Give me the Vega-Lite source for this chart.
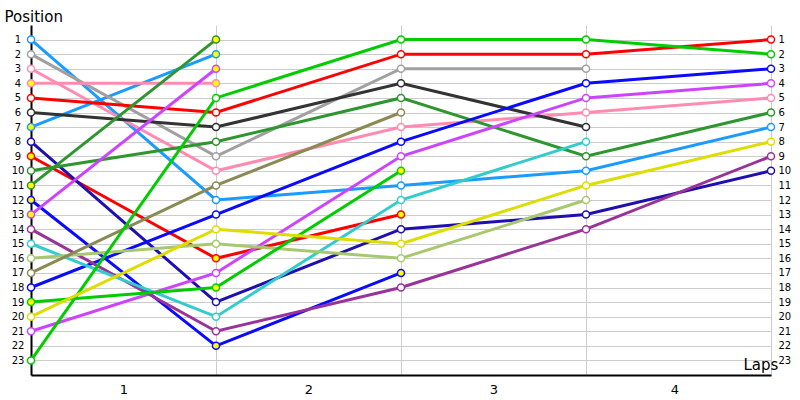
{
  "$schema": "https://vega.github.io/schema/vega-lite/v6.json",
  "autosize": {"type": "none"},
  "width": 740,
  "height": 350,
  "padding": {"left": 31, "top": 25, "right": 29, "bottom": 25},
  "background": "white",
  "config": {"view": {"stroke": null}, "font": "DejaVu Sans"},
  "data": {"values": [
    {"driver":"S1","team":"Sky","car":"1","lap":0,"pos":1},{"driver":"S1","team":"Sky","car":"1","lap":1,"pos":12},{"driver":"S1","team":"Sky","car":"1","lap":2,"pos":11},{"driver":"S1","team":"Sky","car":"1","lap":3,"pos":10},{"driver":"S1","team":"Sky","car":"1","lap":4,"pos":7},
    {"driver":"S7","team":"Sky","car":"2","lap":0,"pos":7},{"driver":"S7","team":"Sky","car":"2","lap":1,"pos":2},
    {"driver":"S2","team":"Silver","car":"1","lap":0,"pos":2},{"driver":"S2","team":"Silver","car":"1","lap":1,"pos":9},{"driver":"S2","team":"Silver","car":"1","lap":2,"pos":3},{"driver":"S2","team":"Silver","car":"1","lap":3,"pos":3},
    {"driver":"S3","team":"Rose","car":"1","lap":0,"pos":3},{"driver":"S3","team":"Rose","car":"1","lap":1,"pos":10},{"driver":"S3","team":"Rose","car":"1","lap":2,"pos":7},{"driver":"S3","team":"Rose","car":"1","lap":3,"pos":6},{"driver":"S3","team":"Rose","car":"1","lap":4,"pos":5},
    {"driver":"S4","team":"Rose","car":"2","lap":0,"pos":4},{"driver":"S4","team":"Rose","car":"2","lap":1,"pos":4},
    {"driver":"S5","team":"Scarlet","car":"1","lap":0,"pos":5},{"driver":"S5","team":"Scarlet","car":"1","lap":1,"pos":6},{"driver":"S5","team":"Scarlet","car":"1","lap":2,"pos":2},{"driver":"S5","team":"Scarlet","car":"1","lap":3,"pos":2},{"driver":"S5","team":"Scarlet","car":"1","lap":4,"pos":1},
    {"driver":"S9","team":"Scarlet","car":"2","lap":0,"pos":9},{"driver":"S9","team":"Scarlet","car":"2","lap":1,"pos":16},{"driver":"S9","team":"Scarlet","car":"2","lap":2,"pos":13},
    {"driver":"S6","team":"Onyx","car":"1","lap":0,"pos":6},{"driver":"S6","team":"Onyx","car":"1","lap":1,"pos":7},{"driver":"S6","team":"Onyx","car":"1","lap":2,"pos":4},{"driver":"S6","team":"Onyx","car":"1","lap":3,"pos":7},
    {"driver":"S8","team":"Navy","car":"1","lap":0,"pos":8},{"driver":"S8","team":"Navy","car":"1","lap":1,"pos":19},{"driver":"S8","team":"Navy","car":"1","lap":2,"pos":14},{"driver":"S8","team":"Navy","car":"1","lap":3,"pos":13},{"driver":"S8","team":"Navy","car":"1","lap":4,"pos":10},
    {"driver":"S10","team":"Forest","car":"1","lap":0,"pos":10},{"driver":"S10","team":"Forest","car":"1","lap":1,"pos":8},{"driver":"S10","team":"Forest","car":"1","lap":2,"pos":5},{"driver":"S10","team":"Forest","car":"1","lap":3,"pos":9},{"driver":"S10","team":"Forest","car":"1","lap":4,"pos":6},
    {"driver":"S11","team":"Forest","car":"2","lap":0,"pos":11},{"driver":"S11","team":"Forest","car":"2","lap":1,"pos":1},
    {"driver":"S18","team":"Azure","car":"1","lap":0,"pos":18},{"driver":"S18","team":"Azure","car":"1","lap":1,"pos":13},{"driver":"S18","team":"Azure","car":"1","lap":2,"pos":8},{"driver":"S18","team":"Azure","car":"1","lap":3,"pos":4},{"driver":"S18","team":"Azure","car":"1","lap":4,"pos":3},
    {"driver":"S12","team":"Azure","car":"2","lap":0,"pos":12},{"driver":"S12","team":"Azure","car":"2","lap":1,"pos":22},{"driver":"S12","team":"Azure","car":"2","lap":2,"pos":17},
    {"driver":"S21","team":"Violet","car":"1","lap":0,"pos":21},{"driver":"S21","team":"Violet","car":"1","lap":1,"pos":17},{"driver":"S21","team":"Violet","car":"1","lap":2,"pos":9},{"driver":"S21","team":"Violet","car":"1","lap":3,"pos":5},{"driver":"S21","team":"Violet","car":"1","lap":4,"pos":4},
    {"driver":"S13","team":"Violet","car":"2","lap":0,"pos":13},{"driver":"S13","team":"Violet","car":"2","lap":1,"pos":3},
    {"driver":"S14","team":"Plum","car":"1","lap":0,"pos":14},{"driver":"S14","team":"Plum","car":"1","lap":1,"pos":21},{"driver":"S14","team":"Plum","car":"1","lap":2,"pos":18},{"driver":"S14","team":"Plum","car":"1","lap":3,"pos":14},{"driver":"S14","team":"Plum","car":"1","lap":4,"pos":9},
    {"driver":"S15","team":"Teal","car":"1","lap":0,"pos":15},{"driver":"S15","team":"Teal","car":"1","lap":1,"pos":20},{"driver":"S15","team":"Teal","car":"1","lap":2,"pos":12},{"driver":"S15","team":"Teal","car":"1","lap":3,"pos":8},
    {"driver":"S16","team":"Sage","car":"1","lap":0,"pos":16},{"driver":"S16","team":"Sage","car":"1","lap":1,"pos":15},{"driver":"S16","team":"Sage","car":"1","lap":2,"pos":16},{"driver":"S16","team":"Sage","car":"1","lap":3,"pos":12},
    {"driver":"S17","team":"Olive","car":"1","lap":0,"pos":17},{"driver":"S17","team":"Olive","car":"1","lap":1,"pos":11},{"driver":"S17","team":"Olive","car":"1","lap":2,"pos":6},
    {"driver":"S23","team":"Lime","car":"1","lap":0,"pos":23},{"driver":"S23","team":"Lime","car":"1","lap":1,"pos":5},{"driver":"S23","team":"Lime","car":"1","lap":2,"pos":1},{"driver":"S23","team":"Lime","car":"1","lap":3,"pos":1},{"driver":"S23","team":"Lime","car":"1","lap":4,"pos":2},
    {"driver":"S19","team":"Lime","car":"2","lap":0,"pos":19},{"driver":"S19","team":"Lime","car":"2","lap":1,"pos":18},{"driver":"S19","team":"Lime","car":"2","lap":2,"pos":10},
    {"driver":"S20","team":"Gold","car":"1","lap":0,"pos":20},{"driver":"S20","team":"Gold","car":"1","lap":1,"pos":14},{"driver":"S20","team":"Gold","car":"1","lap":2,"pos":15},{"driver":"S20","team":"Gold","car":"1","lap":3,"pos":11},{"driver":"S20","team":"Gold","car":"1","lap":4,"pos":8}
  ]},
  "resolve": {"axis": {"y": "independent"}},
  "layer": [
    {
      "mark": {"type": "line", "strokeWidth": 3, "clip": false},
      "encoding": {
        "x": {"field": "lap", "type": "quantitative", "scale": {"domain": [0, 4], "nice": false, "zero": false},
          "axis": {"values": [1, 2, 3, 4], "format": "d", "labelOffset": -92.5, "grid": true, "gridColor": "#cccccc", "ticks": false, "tickSize": 0,
            "domain": true, "domainColor": "black", "domainWidth": 2, "labelPadding": 8, "labelFontSize": 13, "labelColor": "black", "labelFont": "DejaVu Sans",
            "title": "Laps", "titleFontSize": 15, "titleFontWeight": "normal", "titleFont": "DejaVu Sans", "titleColor": "black", "titleAngle": 0,
            "titleAlign": "left", "titleBaseline": "alphabetic", "titleX": 712, "titleY": -6}},
        "y": {"field": "pos", "type": "quantitative", "scale": {"domain": [0, 24], "reverse": true, "nice": false, "zero": false},
          "axis": {"orient": "left", "values": [1,2,3,4,5,6,7,8,9,10,11,12,13,14,15,16,17,18,19,20,21,22,23], "grid": true, "gridColor": "#cccccc",
            "ticks": false, "tickSize": 0, "domain": true, "domainColor": "black", "domainWidth": 2, "labelAlign": "center", "labelPadding": 13.5,
            "labelFontSize": 10, "labelColor": "black", "labelFont": "DejaVu Sans",
            "title": "Position", "titleFontSize": 15, "titleFontWeight": "normal", "titleFont": "DejaVu Sans", "titleColor": "black", "titleAngle": 0,
            "titleAlign": "left", "titleBaseline": "alphabetic", "titleX": -27, "titleY": -4}},
        "detail": {"field": "driver"},
        "order": {"field": "lap"},
        "stroke": {"field": "team", "type": "nominal", "legend": null,
          "scale": {"domain": ["Sky","Silver","Rose","Scarlet","Onyx","Navy","Forest","Azure","Violet","Plum","Teal","Sage","Olive","Lime","Gold"],
            "range": ["#1a9bff","#a0a0a0","#ff8cb0","#ff0000","#333333","#1f0fae","#2e962e","#0a0aff","#cc44ff","#993399","#33cccc","#a8c870","#8a8a55","#00cc00","#dddd00"]}}
      }
    },
    {
      "mark": {"type": "point", "shape": "circle", "size": 50, "strokeWidth": 1.5, "filled": false, "opacity": 1, "clip": false},
      "encoding": {
        "x": {"field": "lap", "type": "quantitative"},
        "y": {"field": "pos", "type": "quantitative",
          "axis": {"orient": "right", "values": [1,2,3,4,5,6,7,8,9,10,11,12,13,14,15,16,17,18,19,20,21,22,23], "grid": false,
            "ticks": false, "tickSize": 0, "domain": false, "labelAlign": "left", "labelPadding": 7,
            "labelFontSize": 10, "labelColor": "black", "labelFont": "DejaVu Sans", "title": null}},
        "stroke": {"field": "team", "type": "nominal", "legend": null},
        "fill": {"field": "car", "type": "nominal", "legend": null, "scale": {"domain": ["1", "2"], "range": ["#ffffff", "#ffff00"]}}
      }
    }
  ]
}
